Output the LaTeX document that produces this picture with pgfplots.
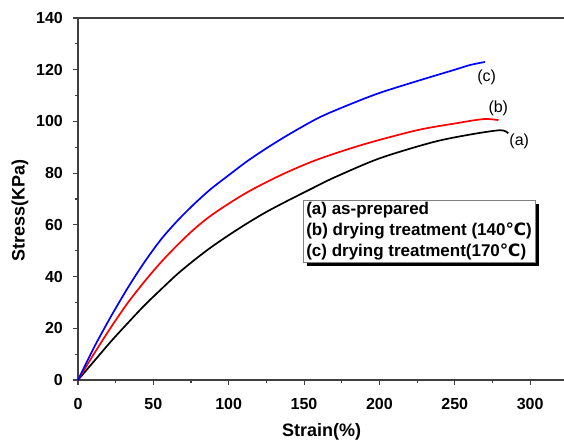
\documentclass[border=0pt]{standalone}
\usepackage{pgfplots}
\pgfplotsset{compat=1.18}
\usepackage{fontspec}
\setmainfont{Liberation Sans}
\newfontfamily\symfont{DejaVu Sans}
\usetikzlibrary{shadows}
\definecolor{axgray}{RGB}{64,64,64}
\begin{document}
\begin{tikzpicture}
\fontsize{16bp}{18bp}\selectfont
\begin{axis}[
  at={(0,0)}, anchor=south west,
  scale only axis, width=486bp, height=362bp,
  xmin=0, xmax=322.5, ymin=0, ymax=140,
  xtick={0,50,...,300}, ytick={0,20,...,140},
  minor x tick num=1, minor y tick num=1,
  axis x line*=bottom, axis y line*=left,
  tick align=outside,
  major tick length=5bp, minor tick length=3bp,
  axis line style={axgray, line width=1.2bp},
  every tick/.style={axgray, line width=1.1bp},
  tick label style={font=\fontsize{16bp}{18bp}\selectfont\bfseries, inner sep=0pt},
  yticklabel style={xshift=-10bp},
  xticklabel style={yshift=-13bp},
  /pgf/number format/assume math mode=true,
  clip=false,
]
\addplot[black, line width=1.7bp, smooth, tension=0.5] coordinates {
(0,0)(11,7.5)(22,15)(33,22)(44,28.8)(55,35)(66,41)(77,46.3)(88,51.2)(100,56)(112,60.5)(125,65)(140,69.6)(155,74)(170,78.3)(200,85.7)(235,91.9)(258,94.7)(280,96.6)(285.5,95.4)};
\addplot[red, line width=1.7bp, smooth, tension=0.5] coordinates {
(0,0)(11,10.5)(22,20.5)(33,29.8)(44,38)(55,45.5)(66,52.2)(77,58.3)(88,63.5)(100,68.2)(112,72.5)(125,76.5)(140,80.7)(160,85.5)(190,91.2)(225,96.6)(250,99.2)(269,100.9)(279,100.5)};
\addplot[blue, line width=1.7bp, smooth, tension=0.5] coordinates {
(0,0)(11,13)(22,24.7)(33,35.6)(44,45.5)(55,54.3)(66,61.6)(77,68)(88,73.8)(100,79.2)(112,84.5)(125,89.6)(140,95)(160,101.5)(180,106.5)(200,111)(225,115.6)(250,120)(260,121.8)(270,123)};
\draw[axgray, line width=1.2bp] (rel axis cs:0,1) -- (rel axis cs:1,1);
\node[font=\fontsize{16bp}{18bp}\selectfont] at (axis cs:271.2,117.0) {(c)};
\node[font=\fontsize{16bp}{18bp}\selectfont] at (axis cs:278.9,105.0) {(b)};
\node[font=\fontsize{16bp}{18bp}\selectfont] at (axis cs:292.8,92.1) {(a)};
\end{axis}
\node[draw=gray, line width=0.6bp, fill=white, anchor=north west, inner xsep=3bp, inner ysep=2bp, align=left,
  general shadow={fill=black, shadow xshift=4bp, shadow yshift=-4bp},
  font=\fontsize{17bp}{21bp}\selectfont\bfseries]
  at (225bp,180bp) {(a) as-prepared\\(b) drying treatment (140{\symfont ℃})\\(c) drying treatment(170{\symfont ℃})};
\node[rotate=90, font=\fontsize{18bp}{20bp}\selectfont\bfseries] at (-58bp,169.5bp) {Stress(KPa)};
\node[font=\fontsize{18bp}{20bp}\selectfont\bfseries] at (243.7bp,-52bp) {Strain(\%)};
\pgfresetboundingbox
\path[use as bounding box] (-78bp,-62bp) rectangle (486bp,380bp);
\end{tikzpicture}
\end{document}
